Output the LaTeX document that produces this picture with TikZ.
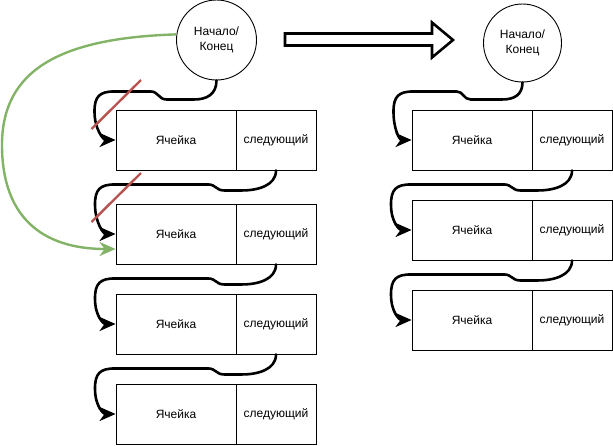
\documentclass[tikz,border=0pt]{standalone}
\usepackage{fontspec}
\setmainfont{Liberation Sans}
\usetikzlibrary{arrows.meta}
\definecolor{linkgreen}{HTML}{82B366}
\definecolor{cutred}{HTML}{B85450}
\tikzset{
  cell/.style={draw,line width=0.9pt,minimum width=120pt,minimum height=60pt,
    inner sep=0pt,font=\fontsize{12}{14}\selectfont},
  nextcell/.style={cell,minimum width=80pt},
  term/.style={draw,circle,line width=0.9pt,minimum size=80pt,inner sep=0pt,
    align=center,font=\fontsize{12}{15}\selectfont},
  tip/.style={-{Stealth[length=16pt,width=14pt,inset=5pt]}},
  link/.style={tip,line width=2.6pt,line cap=round},
  cut/.style={cutred,line width=2.4pt}
}

\begin{document}
\begin{tikzpicture}[x=1pt,y=-1pt]
  \useasboundingbox (0,0) rectangle (613,445);
  % left list
  \node[term] (term) at (216.5,40) {Начало/\\Конец};
  \foreach \i/\y in {1/140,2/234,3/324,4/414} {
    \node[cell] (c\i) at (176,\y) {Ячейка};
    \node[nextcell] (n\i) at (276,\y) {следующий};
  }
  % right list
  \node[term,minimum size=78pt] (termR) at (522.5,43) {Начало/\\Конец};
  \foreach \i/\y in {1/140,2/230,3/320} {
    \node[cell] (rc\i) at (472,\y) {Ячейка};
    \node[nextcell] (rn\i) at (572,\y) {следующий};
  }
  % big arrow
  \draw[line width=2.6pt,line join=miter,fill=white] (285,33.5) -- (432,33.5) -- (432,22.5)
    -- (453,40) -- (432,57.5) -- (432,45.5) -- (285,45.5) -- cycle;
  % links
  \draw[link] (term.south) .. controls +(0,14) and +(12,0) .. ++(-22,19) -- ++(-28,0)
    .. controls +(-8,0) and +(8,0) .. ++(-16,-8) -- ++(-36,0)
    .. controls +(-15,0) and +(0,-15) .. ++(-20,20)
    .. controls +(0,18) and +(-12,0) .. (c1.west);
  \draw[link] (termR.south) .. controls +(0,12) and +(12,0) .. ++(-20,17) -- ++(-32,0)
    .. controls +(-7,0) and +(7,0) .. ++(-14,-8) -- ++(-43,0)
    .. controls +(-15,0) and +(0,-15) .. ++(-20,20)
    .. controls +(0,18) and +(-12,0) .. (rc1.west);
  \foreach \a/\b in {n1/c2,n2/c3,n3/c4,rn1/rc2,rn2/rc3}
    \draw[link] (\a.south) .. controls +(0,15) and +(16,0) .. ++(-34,20) -- ++(-18,0)
      .. controls +(-8,0) and +(8,0) .. ++(-16,-6) -- ++(-93,0)
      .. controls +(-15,0) and +(0,-15) .. ++(-20,20)
      .. controls +(0,18) and +(-12,0) .. (\b.west);
  % new head link
  \coordinate (g) at ([yshift=-15pt]c2.west);
  \draw[tip,linkgreen,line width=2.4pt] (term.172) .. controls (60,38) and (2,70) .. (2,145)
    .. controls (2,215) and (40,249) .. (g);
  % removed links
  \draw[cut] (141,80) -- (91.5,129);
  \draw[cut] (141,173) -- (91.5,222);
\end{tikzpicture}
\end{document}
